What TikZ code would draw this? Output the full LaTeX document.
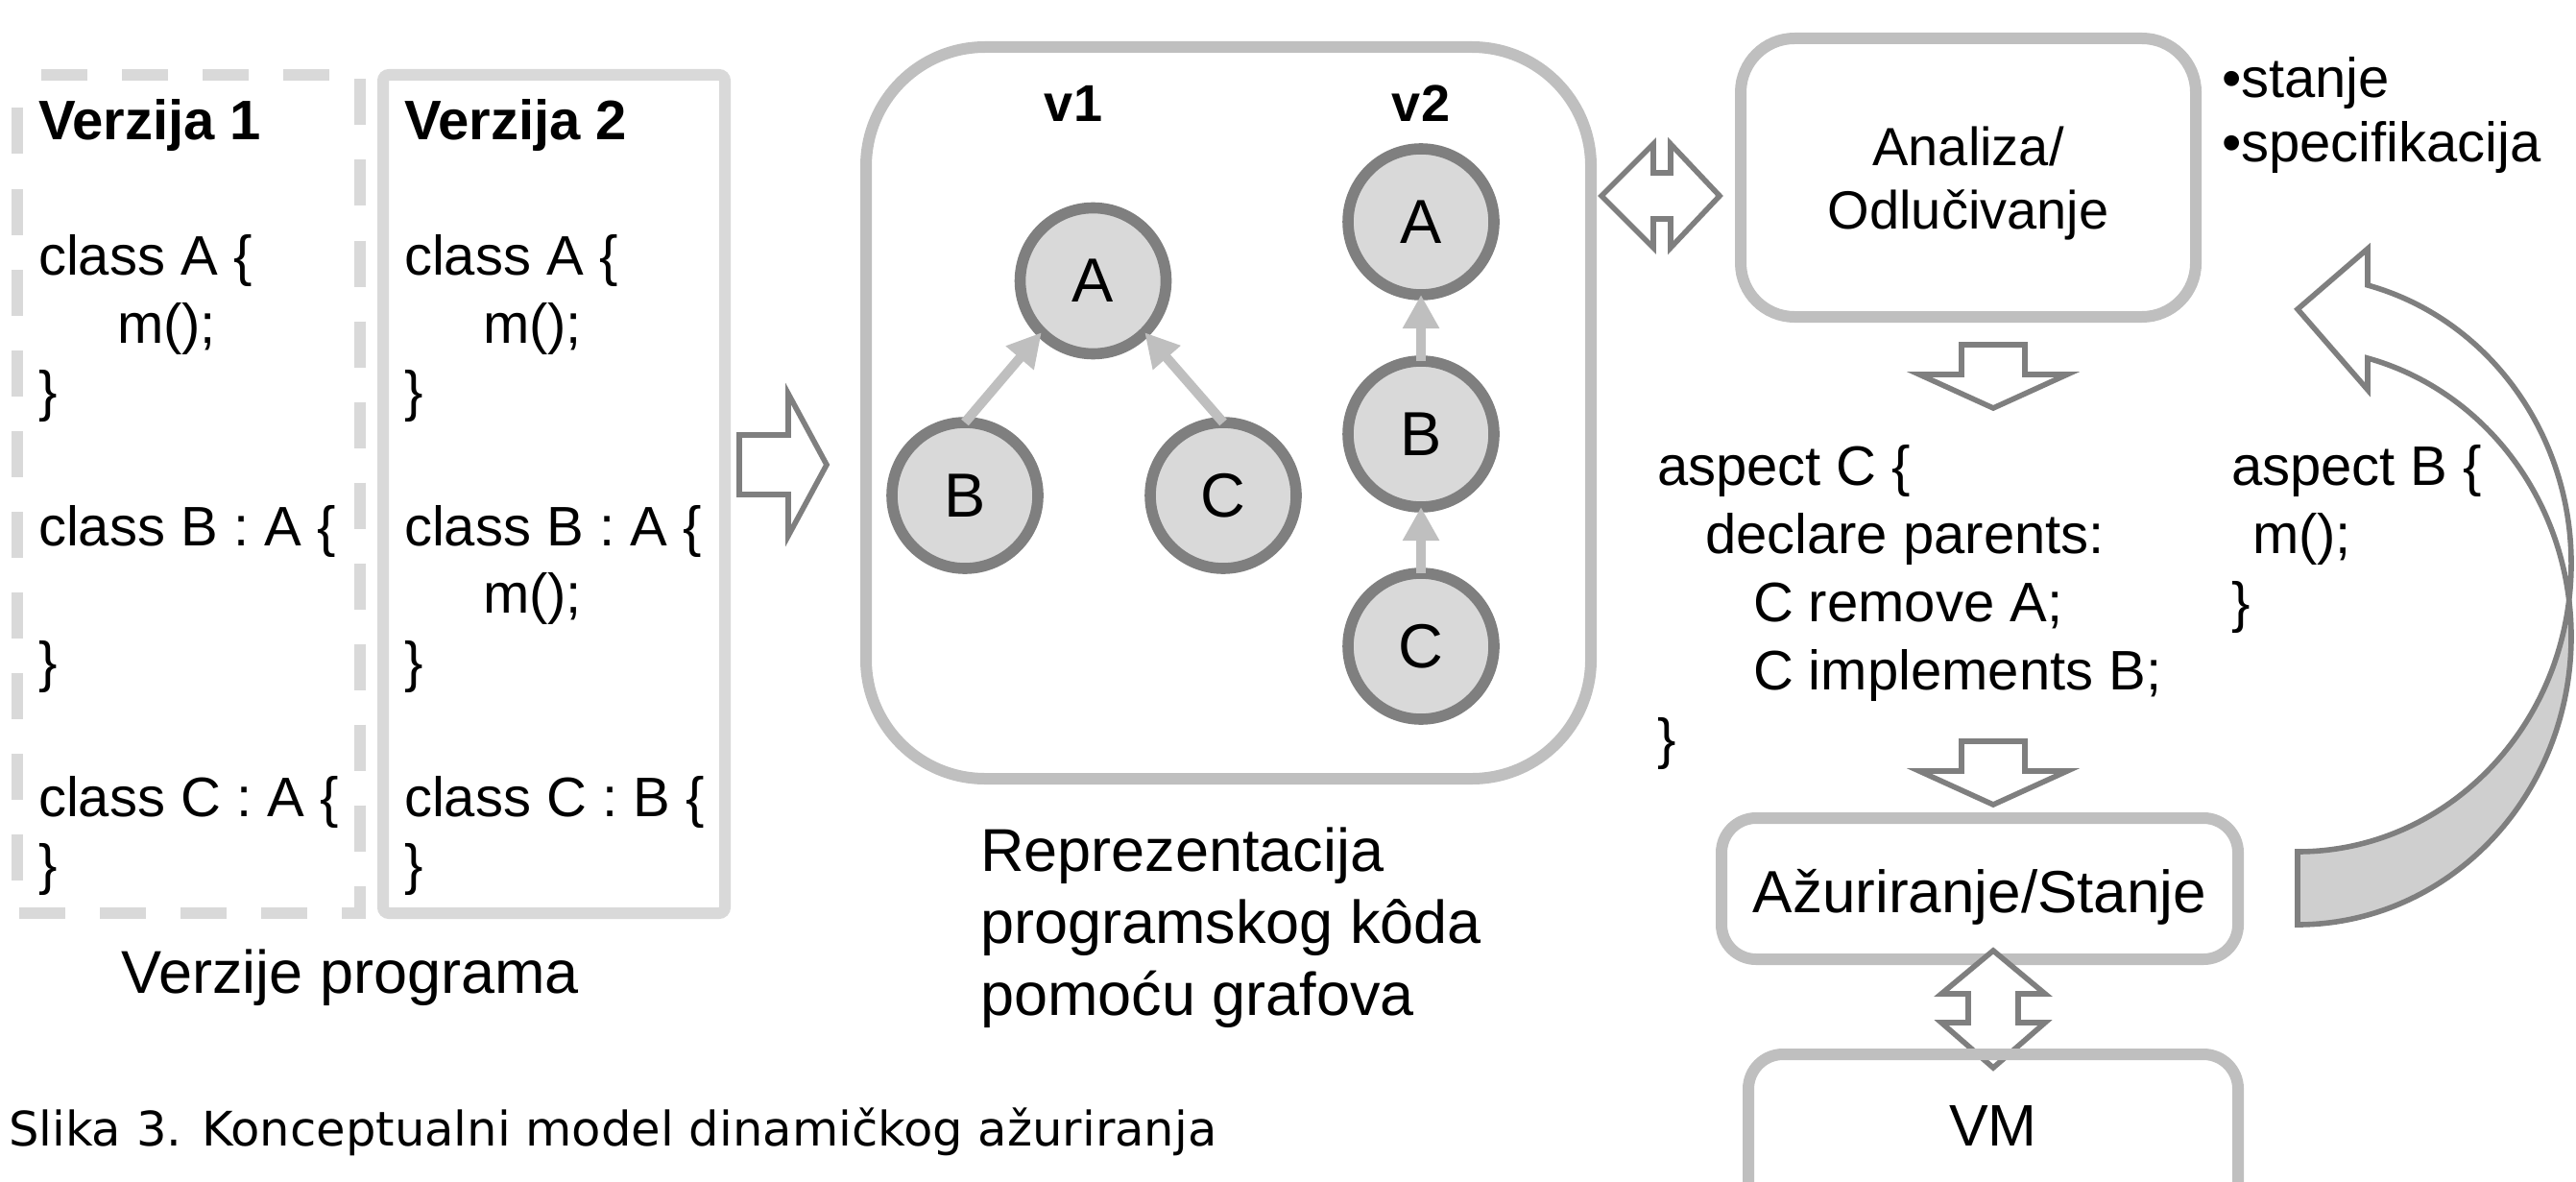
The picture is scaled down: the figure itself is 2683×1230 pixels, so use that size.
\documentclass[tikz,border=0pt]{standalone}
\usepackage{fontspec}
\setmainfont{Liberation Sans}
\newfontfamily\capfont{DejaVu Sans}
\usetikzlibrary{arrows.meta,calc}

\definecolor{boxlight}{HTML}{D9D9D9}
\definecolor{boxmid}{HTML}{BFBFBF}
\definecolor{nodefill}{HTML}{D9D9D9}
\definecolor{nodeline}{HTML}{7F7F7F}
\definecolor{edgecol}{HTML}{BFBFBF}
\definecolor{arrline}{HTML}{7F7F7F}
\definecolor{backfill}{HTML}{CFCFCF}

\newcommand\fsz[2]{\fontsize{#1}{#2}\selectfont}
\newcommand\lns[2]{\begin{tabular}[t]{@{}#1@{}}#2\end{tabular}}

\begin{document}
\begin{tikzpicture}[x=0.25pt,y=-0.25pt,
  every node/.style={inner sep=0pt, outer sep=0pt},
  dashbox/.style={draw=boxlight, line width=3pt, dash pattern=on 12pt off 9pt, dash phase=14.75pt},
  solidbox/.style={draw=boxlight, line width=3pt, rounded corners=1.5pt, rectangle},
  rbox/.style={draw=boxmid, line width=3pt, rectangle},
  gnode/.style={circle, draw=nodeline, fill=nodefill, line width=2.9pt, minimum size=38pt, font=\fsz{16.2pt}{19pt}},
  edge/.style={draw=edgecol, line width=2.5pt, -{Triangle[length=8.75pt, width=9pt]}},
  blockarr/.style={draw=arrline, fill=white, line width=1.4pt, line join=miter},
  code/.style={anchor=base west, font=\fsz{14.5pt}{17.6pt}},
  bigtxt/.style={font=\fsz{15.75pt}{18.75pt}},
  vlabel/.style={anchor=base, font=\bfseries\fsz{13.5pt}{16pt}},
]
\useasboundingbox (0,0) rectangle (2683,1230);
\clip (0,0) rectangle (2683,1230);

% ---------- program versions ----------
\coordinate (v1nw) at (18,78.5);
\coordinate (v1ne) at (375,78.5);
\coordinate (v1se) at (375,951);
\coordinate (v1sw) at (18,951);
\draw[dashbox] (v1nw) -- (v1ne) -- (v1se) -- (v1sw) -- cycle;
\node[solidbox, minimum width=89pt, minimum height=218.25pt] (ver2) at (577,514.5) {};

\node[code] (t1) at (40,146) {\lns{l}{\textbf{Verzija 1}\\ \\ class A \{\\ \hspace*{20.5pt}m();\\ \}\\ \\ class B : A \{\\ \\ \}\\ \\ class C : A \{\\ \}}};
\node[code] (t2) at (421,146) {\lns{l}{\textbf{Verzija 2}\\ \\ class A \{\\ \hspace*{20.5pt}m();\\ \}\\ \\ class B : A \{\\ \hspace*{20.5pt}m();\\ \}\\ \\ class C : B \{\\ \}}};
\node[bigtxt, anchor=base] (vp) at (365,1034) {Verzije programa};

% right block arrow
\draw[blockarr] (770,453) -- (821,453) -- (821,410) -- (861,484) -- (821,558) -- (821,515) -- (770,515) -- cycle;

% ---------- graph representation ----------
\node[rbox, rounded corners=31pt, minimum width=188.75pt, minimum height=190.5pt] (graph) at (1279.5,430) {};
\node[vlabel] (lv1) at (1118,127) {v1};
\node[vlabel] (lv2) at (1480,127) {v2};
\node[gnode] (a1) at (1138.5,292.5) {A};
\node[gnode] (b1) at (1005,516) {B};
\node[gnode] (c1) at (1274,516) {C};
\node[gnode] (a2) at (1480,231) {A};
\node[gnode] (b2) at (1480,452) {B};
\node[gnode] (c2) at (1480,673) {C};
\draw[edge] (b1.north) -- (a1.south west);
\draw[edge] (c1.north) -- (a1.south east);
\draw[edge] (b2.north) -- (a2.south);
\draw[edge] (c2.north) -- (b2.south);
\node[bigtxt, anchor=base west] (rep) at (1021,907) {\lns{l}{Reprezentacija\\ programskog kôda\\ pomoću grafova}};

% horizontal double block arrow
\draw[blockarr] (1668,204) -- (1722,150) -- (1722,180) -- (1740,180) -- (1740,150) -- (1791,204) -- (1740,258) -- (1740,228) -- (1722,228) -- (1722,258) -- cycle;

% ---------- analysis / update ----------
\node[rbox, rounded corners=14pt, minimum width=118.5pt, minimum height=72.5pt] (ana) at (2050,185) {};
\node[anchor=base, font=\fsz{14pt}{16.5pt}] (anat) at (2050,173) {\lns{c}{Analiza/\\ Odlučivanje}};
\node[anchor=base west, font=\fsz{14.5pt}{16.75pt}] (bul) at (2314,102) {\lns{l}{•stanje\\ •specifikacija}};

\draw[blockarr] (2043,359) -- (2109,359) -- (2109,390) -- (2153,390) -- (2076,425) -- (1999,390) -- (2043,390) -- cycle;

\node[anchor=base west, font=\fsz{14.5pt}{17.75pt}] (aspc) at (1726,505) {\lns{l}{aspect C \{\\ \hspace*{12.5pt}declare parents:\\ \hspace*{25pt}C remove A;\\ \hspace*{25pt}C implements B;\\ \}}};
\node[anchor=base west, font=\fsz{14.5pt}{17.75pt}] (aspb) at (2324,505) {\lns{l}{aspect B \{\\ \hspace*{5.5pt}m();\\ \}}};

\draw[blockarr] (2043,772) -- (2109,772) -- (2109,803) -- (2153,803) -- (2076,838) -- (1999,803) -- (2043,803) -- cycle;

\node[rbox, rounded corners=9pt, minimum width=134.5pt, minimum height=36.75pt] (azu) at (2062,925.5) {};
\node[anchor=base, font=\fsz{15.5pt}{18pt}] (azut) at (2062,950) {Ažuriranje/Stanje};

% vertical double block arrow
\draw[blockarr] (2076,990) -- (2130,1035) -- (2102,1035) -- (2102,1065) -- (2130,1065) -- (2076,1112) -- (2022,1065) -- (2050,1065) -- (2050,1035) -- (2022,1035) -- cycle;

\node[rbox, rounded corners=9pt, minimum width=127.5pt, minimum height=53pt] (vm) at (2076,1204) {};
\node[anchor=base, font=\fsz{15.25pt}{18pt}] (vmt) at (2076,1193) {VM};

% curved arrow (back part, then front part)
\coordinate (e1c) at (2393,663);
\coordinate (e2c) at (2393,587);
\draw[blockarr, fill=backfill] (e1c) ++(-7.28:285 and 300) arc[start angle=-7.28, end angle=90, x radius=285, y radius=300] -- ++(0,-76) arc[start angle=90, end angle=7.28, x radius=285, y radius=300] -- cycle;
\draw[blockarr] (e2c) ++(-75.16:285 and 300) arc[start angle=-75.16, end angle=7.28, x radius=285, y radius=300] arc[start angle=-7.28, end angle=-75.16, x radius=285, y radius=300] -- (2466,406) -- (2393,322) -- (2466,259) -- cycle;

% caption
\node[anchor=base west, font=\capfont\fsz{12.4pt}{15pt}] (cap) at (9,1193) {Slika 3. Konceptualni model dinamičkog ažuriranja};
\end{tikzpicture}
\end{document}
